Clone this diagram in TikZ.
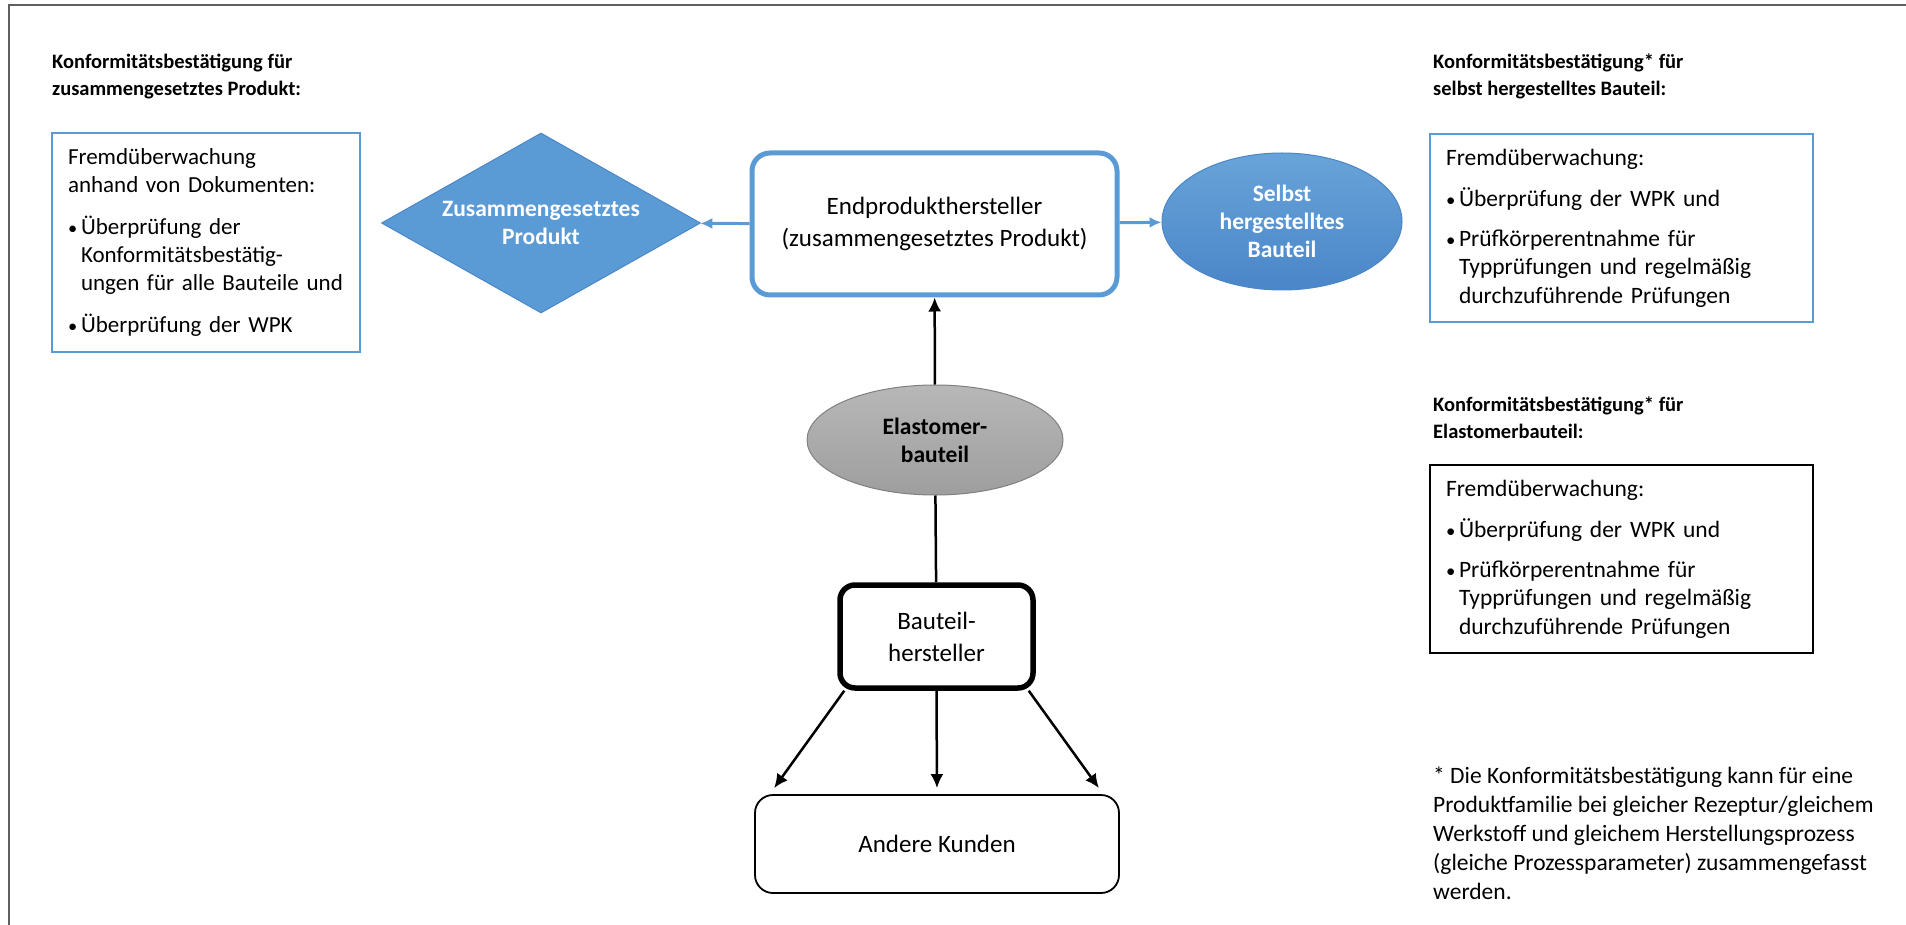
\documentclass[tikz,border=0pt]{standalone}
\usepackage{fontspec}
\setmainfont{Carlito}
\usepackage{graphicx}
\usepackage{xcolor}
\usepackage{tikz}
\usetikzlibrary{arrows.meta}
\usetikzlibrary{calc}
\usetikzlibrary{shapes.geometric, shapes.misc}
\definecolor{lblue}{HTML}{5B9BD5}
\definecolor{dblue}{HTML}{4A86C8}
\definecolor{frameg}{HTML}{5F5F5F}
\tikzstyle{heading} = [anchor=base west, align=left, inner sep=0pt,
	font=\fontsize{20.5}{27}\selectfont\bfseries]
\tikzstyle{infobox} = [draw=lblue, line width=1.8pt, align=left,
	inner xsep=16pt, inner ysep=0pt,
	font=\fontsize{23.5}{28.5}\selectfont]
\tikzstyle{block} = [draw, rounded corners=18pt, align=center,
	font=\fontsize{25}{32}\selectfont]
\tikzstyle{shapelabel} = [align=center, inner sep=0pt,
	font=\fontsize{23.5}{28}\selectfont\bfseries]
\tikzstyle{bluearrow} = [-{Latex[length=12pt, width=11pt]}, draw=lblue, line width=3pt]
\tikzstyle{arrow} = [-{Latex[length=14pt, width=13pt]}, line width=2.5pt]
\newcommand{\bul}{\makebox[13pt][l]{\scalebox{0.8}{\textbullet}}}
\newcommand{\ind}{\hspace*{13pt}}

\begin{document}
\begin{tikzpicture}[x=1pt, y=-1pt]
	\useasboundingbox (0,0) rectangle (1906,925);
	\draw [frameg, line width=2.5pt] (9,925) -- (9,5) -- (1906,5);

	% headings (base = last line)
	\node (hzus) [heading] at (52,96) {Konformitätsbestätigung für\\zusammengesetztes Produkt:};
	\node (hselbst) [heading] at (1433,96) {Konformitätsbestätigung* für\\selbst hergestelltes Bauteil:};
	\node (helast) [heading] at (1433,438) {Konformitätsbestätigung* für\\Elastomerbauteil:};

	% Fremdueberwachung boxes
	\node (lbox) [infobox, text width=276pt, minimum height=219pt,
		font=\fontsize{23}{28}\selectfont] at (206,242.5) {%
		Fremdüberwachung\\
		anhand von Dokumenten:\\[14pt]
		\bul Überprüfung der\\
		\ind Konformitätsbestätig-\\
		\ind\mbox{ungen für alle Bauteile und}\\[14pt]
		\bul Überprüfung der WPK};
	\node (rbox) [infobox, text width=351pt, minimum height=188pt] at (1621.5,228) {%
		Fremdüberwachung:\\[13pt]
		\bul Überprüfung der WPK und\\[11pt]
		\bul Prüfkörperentnahme für\\
		\ind Typprüfungen und regelmäßig\\
		\ind durchzuführende Prüfungen};
	\node (ebox) [infobox, draw=black, text width=351pt, minimum height=188pt] at (1621.5,559) {%
		Fremdüberwachung:\\[13pt]
		\bul Überprüfung der WPK und\\[11pt]
		\bul Prüfkörperentnahme für\\
		\ind Typprüfungen und regelmäßig\\
		\ind durchzuführende Prüfungen};

	% main flow
	\node (endp) [block, draw=lblue, line width=5pt, minimum width=365pt, minimum height=142pt] at (934.5,224)
		{Endprodukthersteller\\(zusammengesetztes Produkt)};
	\node (zus) [diamond, shapelabel, aspect=1.77, fill=lblue, draw=dblue, line width=1pt,
		minimum width=319pt, minimum height=180pt, text=white] at (541,223) {Zusammengesetztes\\Produkt};
	\node (selbst) [ellipse, shapelabel, top color=lblue!92!white, bottom color=dblue, draw=dblue, line width=1pt,
		minimum width=240pt, minimum height=137pt, text=white] at (1282,221.5) {Selbst\\hergestelltes\\Bauteil};
	\node (elast) [ellipse, shapelabel, top color=black!28, bottom color=black!38, draw=black!50, line width=1pt,
		minimum width=256pt, minimum height=110pt] at (935,440) {Elastomer-\\bauteil};
	\node (bau) [block, line width=5.5pt, rounded corners=15pt, minimum width=193pt, minimum height=103pt] at (936.5,636.5)
		{Bauteil-\\hersteller};
	\node (kunden) [block, line width=1.8pt, minimum width=364pt, minimum height=98pt] at (937,844) {Andere Kunden};

	\draw [bluearrow] (endp) -- (zus);
	\draw [bluearrow] (endp) -- (selbst);
	\draw [arrow] (elast) -- (endp);
	\draw [line width=2.5pt] (bau) -- (elast);
	\draw [arrow] ($(bau.south west)+(7,0)$) -- ($(kunden.north west)+(20,-6)$);
	\draw [arrow, shorten >=6pt] (bau.south) -- (kunden.north);
	\draw [arrow] ($(bau.south east)+(-7,0)$) -- ($(kunden.north east)+(-21,-6)$);

	% footnote (base = last line)
	\node (note) [anchor=base west, align=left, inner sep=0pt, font=\fontsize{23.5}{29}\selectfont] at (1433,899)
		{* Die Konformitätsbestätigung kann für eine\\
		Produktfamilie bei gleicher Rezeptur/gleichem\\
		Werkstoff und gleichem Herstellungsprozess\\
		(gleiche Prozessparameter) zusammengefasst\\
		werden.};
\end{tikzpicture}
\end{document}
